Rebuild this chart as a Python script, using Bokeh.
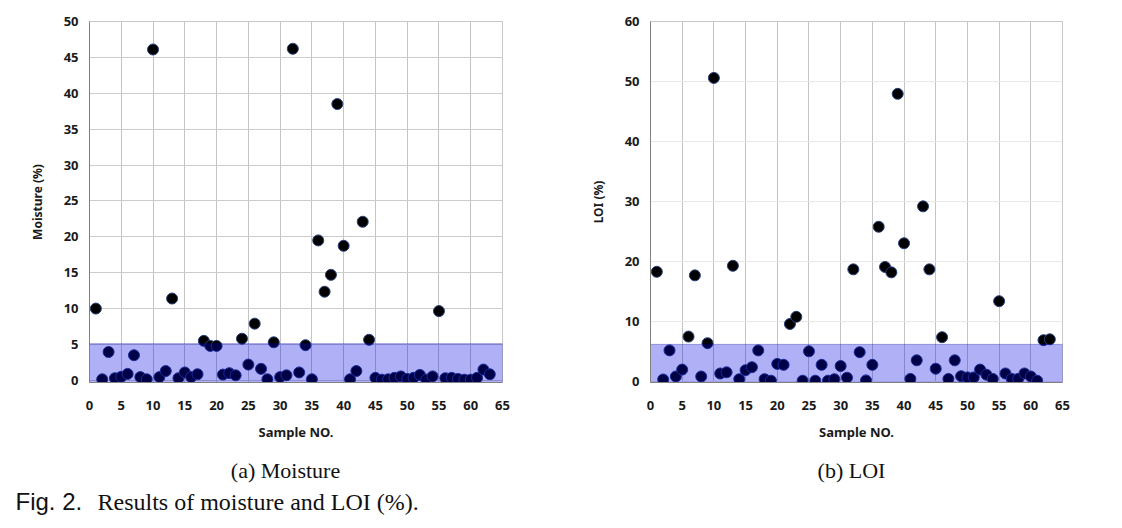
from bokeh.plotting import figure
from bokeh.layouts import row, column
from bokeh.models import Range1d, FixedTicker
from bokeh.core.properties import value
from bokeh.embed import file_html
from bokeh.resources import INLINE

sample_no = list(range(1, 64))
moisture = [10.0, 0.15, 3.95, 0.3, 0.5, 0.9, 3.5, 0.45, 0.15, 46.1,
            0.45, 1.3, 11.4, 0.3, 1.1, 0.45, 0.85, 5.5, 4.8, 4.8,
            0.8, 1.0, 0.7, 5.8, 2.2, 7.9, 1.6, 0.15, 5.3, 0.45,
            0.7, 46.2, 1.1, 4.9, 0.15, 19.5, 12.35, 14.7, 38.5, 18.75,
            0.15, 1.3, 22.1, 5.65, 0.35, 0.1, 0.15, 0.35, 0.55, 0.2,
            0.35, 0.75, 0.1, 0.55, 9.65, 0.3, 0.35, 0.2, 0.1, 0.1,
            0.35, 1.5, 0.85]
loi = [18.3, 0.35, 5.2, 0.85, 2.0, 7.5, 17.7, 0.85, 6.4, 50.6,
       1.35, 1.55, 19.3, 0.4, 1.9, 2.4, 5.2, 0.4, 0.15, 2.95,
       2.8, 9.6, 10.8, 0.15, 5.05, 0.15, 2.8, 0.15, 0.4, 2.6,
       0.65, 18.7, 4.9, 0.2, 2.8, 25.8, 19.1, 18.2, 47.95, 23.05,
       0.45, 3.55, 29.2, 18.7, 2.15, 7.4, 0.45, 3.55, 0.9, 0.7,
       0.7, 2.0, 1.15, 0.45, 13.4, 1.35, 0.45, 0.45, 1.35, 0.85,
       0.15, 6.9, 7.05]

moisture_band = (-0.3, 5.1)
loi_band = (-0.15, 6.2)
x_ticks = list(range(0, 70, 5))
moisture_ticks = list(range(0, 55, 5))
loi_ticks = list(range(0, 70, 10))

sub_captions = ["(a) Moisture", "(b) LOI"]
fig_label = "Fig. 2."
fig_caption = "Results of moisture and LOI (%)."

TICK_FONT = "Noto Sans"


def make_fig(y, yrange, yticks, ylabel, band, hgrid_color, frame_w, borders):
    left, right, top, bottom = borders
    p = figure(frame_width=frame_w, frame_height=361,
               min_border_left=left, min_border_right=right,
               min_border_top=top, min_border_bottom=bottom,
               x_range=Range1d(0, 65), y_range=Range1d(*yrange),
               output_backend="svg", toolbar_location=None)
    p.xaxis.ticker = FixedTicker(ticks=x_ticks)
    p.yaxis.ticker = FixedTicker(ticks=yticks)
    p.xgrid.ticker = FixedTicker(ticks=x_ticks)
    p.ygrid.ticker = FixedTicker(ticks=yticks)
    p.xgrid.grid_line_color = "#c4c4c4"
    p.ygrid.grid_line_color = hgrid_color
    for ax in (p.xaxis, p.yaxis):
        ax.major_tick_line_color = None
        ax.minor_tick_line_color = None
        ax.axis_line_color = "#808080"
        ax.major_label_text_font = TICK_FONT
        ax.major_label_text_font_style = "bold"
        ax.major_label_text_font_size = "13px"
        ax.major_label_text_color = "#1a1a1a"
        ax.axis_label_text_font = TICK_FONT
        ax.axis_label_text_font_style = "bold"
        ax.axis_label_text_color = "#1a1a1a"
    p.xaxis.major_label_standoff = 12
    p.yaxis.major_label_standoff = 5
    p.xaxis.axis_label = "Sample NO."
    p.xaxis.axis_label_text_font_size = "13px"
    p.xaxis.axis_label_standoff = 10
    p.yaxis.axis_label = ylabel
    p.yaxis.axis_label_text_font_size = "12px"
    p.yaxis.axis_label_standoff = 15
    p.outline_line_color = "#c8c8c8"
    p.background_fill_color = "white"
    p.border_fill_color = "white"

    p.scatter(sample_no, y, size=11, fill_color="black", line_color="#27407a", line_width=1)
    p.quad(left=[0], right=[65], bottom=[band[0]], top=[band[1]],
           fill_color="#0000e6", fill_alpha=0.31, line_color="#0000a0", line_alpha=0.35)
    return p


p1 = make_fig(moisture, (-0.3, 50), moisture_ticks, "Moisture (%)", moisture_band, "#cccccc",
              413, (89, 58, 21, 76))
p2 = make_fig(loi, (-0.15, 60), loi_ticks, "LOI (%)", loi_band, "#e8e8e8",
              412, (90, 58, 21, 76))

# caption strip, y measured downward in page pixels
cap = figure(frame_width=1120, frame_height=68, min_border=0,
             x_range=Range1d(0, 1120), y_range=Range1d(526, 458),
             output_backend="svg", toolbar_location=None)
cap.axis.visible = False
cap.grid.visible = False
cap.outline_line_color = None
cap.text(x=[285, 851], y=[470, 470], text=sub_captions,
         text_font=value("Liberation Serif"), text_font_size="22px",
         text_align="center", text_baseline="middle", text_color="#111111")
cap.text(x=[15], y=[501], text=[fig_label],
         text_font=value("Liberation Sans"), text_font_size="24px",
         text_align="left", text_baseline="middle", text_color="#111111")
cap.text(x=[97], y=[501], text=[fig_caption],
         text_font=value("Liberation Serif"), text_font_size="24px",
         text_align="left", text_baseline="middle", text_color="#111111")

layout = column(row(p1, p2), cap)
open("out.html", "w").write(file_html(layout, INLINE))
